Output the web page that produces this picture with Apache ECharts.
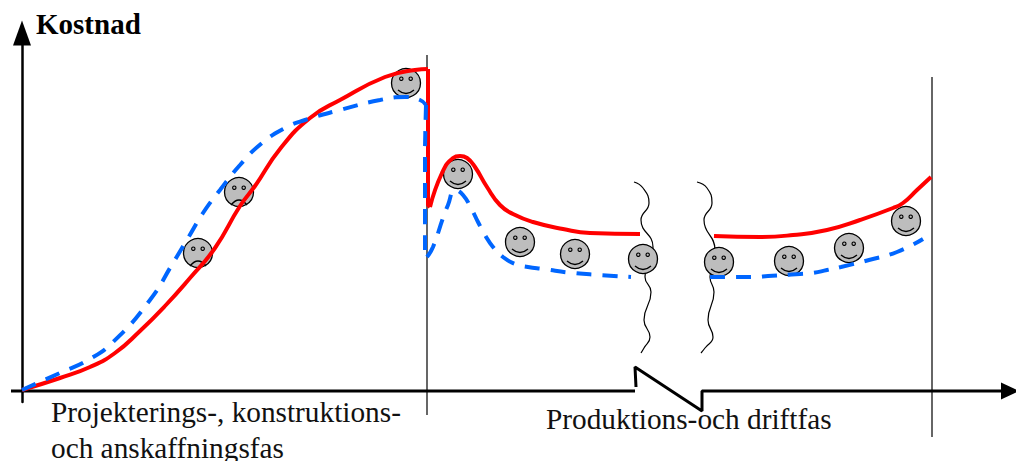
<!DOCTYPE html>
<html>
<head>
<meta charset="utf-8">
<title>Kostnad</title>
<style>
  html, body { margin: 0; padding: 0; background: #fff; }
  #chart { width: 1016px; height: 461px; }
</style>
<script src="https://cdn.jsdelivr.net/npm/echarts@6/dist/echarts.min.js"></script>
</head>
<body>
<div id="chart"></div>
<script>
// x = time along the life cycle, y = cost (arbitrary units)
var redRise = [[0,0],[38,12],[68,23],[93,37],[118,59],[143,84],[168,112],[193,142],[218,184],[233,204],[258,241],[288,272],[318,290],[363,313],[393,320],[406,321]];
var redDrop = [[406,321],[406,185],[408,183]];
var redHump = [[408,183],[420,217],[431,232],[438,234],[445,232],[453,223],[465,203],[478,185],[491,176],[511,168],[541,161],[568,157],[618,156]];
var redLate = [[692,154],[738,153],[771,155],[805,160],[838,170],[871,182],[881,187],[895,200],[909,213]];

var blueRise = [[0,0],[40,18],[66,30],[91,48],[128,90],[151,127],[166,152],[181,177],[198,200],[218,225],[240,247],[263,262],[283,270],[318,280],[358,290],[383,293],[398,290],[404,285]];
var blueDrop = [[404,285],[403,240],[403,140],[405,133]];
var blueHump = [[405,133],[411,143],[421,172],[426,185],[433,200],[441,195],[450,180],[456,168],[463,155],[471,143],[481,133],[493,126],[506,123],[521,121],[551,117],[578,115],[609,113]];
var blueLate = [[688,113],[705,113],[734,113],[746,114],[778,116],[791,117],[805,120],[819,123],[847,130],[875,138],[901,151]];

// faces: x, y, mood (1 happy, -1 sad)
var faces = [[176,137,-1],[217,198,-1],[384,307,1],[436,216,1],[498,148,1],[553,136,1],[621,131,1],[697,128,1],[767,129,1],[827,142,1],[884,169,1]];

var waveLeft = [[612,208],[621,202],[627,187],[619,170],[631,143],[623,113],[629,98],[622,70],[628,53],[622,42],[619,37]];
var waveRight = [[675,208],[685,202],[690,187],[682,170],[693,140],[688,113],[692,98],[686,70],[691,53],[683,42],[679,37]];

var dividerA = [[405,335],[405,-25]];
var dividerB = [[910,313],[910,-47]];
var baseline = [[-11,-1],[613,-1]];
var breakMark = [[614,3],[613,23],[680,-21],[680,-1],[980,-1]];
var xArrowTip = [[988,-1]];

var RED = '#ff0000', BLUE = '#0066ff', INK = '#000000';

function lineSeries(data, color, width, smooth, dashed, z) {
  return {
    type: 'line',
    data: data,
    clip: false,
    silent: true,
    symbol: 'none',
    smooth: smooth,
    z: z,
    lineStyle: { color: color, width: width, type: dashed ? [15, 11] : 'solid', cap: 'butt' }
  };
}

function drawFace(params, api) {
  var p = api.coord([api.value(0), api.value(1)]);
  var happy = api.value(2) > 0;
  var cx = p[0], cy = p[1];
  var line = { stroke: '#000', lineWidth: 1.3, fill: null };
  function eye(dx) {
    return { type: 'circle', shape: { cx: cx + dx, cy: cy - 4.3, r: 1.7 }, style: { fill: '#bdbdbd', stroke: '#000', lineWidth: 1.1 } };
  }
  return {
    type: 'group',
    children: [
      { type: 'circle', shape: { cx: cx, cy: cy, r: 14.5 }, style: { fill: '#bdbdbd', stroke: '#000', lineWidth: 1.3 } },
      eye(-4.7),
      eye(4.7),
      {
        type: 'bezierCurve',
        shape: happy
          ? { x1: cx - 8, y1: cy + 7, x2: cx + 8, y2: cy + 7, cpx1: cx, cpy1: cy + 14 }
          : { x1: cx - 8, y1: cy + 13, x2: cx + 8, y2: cy + 13, cpx1: cx, cpy1: cy + 3 },
        style: line
      }
    ]
  };
}

var chart = echarts.init(document.getElementById('chart'), null, { renderer: 'svg' });
chart.setOption({
  animation: false,
  backgroundColor: '#ffffff',
  grid: { left: 0, right: 0, top: 33, bottom: 59 },
  xAxis: {
    type: 'value',
    min: -22,
    max: 994,
    axisLine: { show: false },
    axisTick: { show: false },
    axisLabel: { show: false },
    splitLine: { show: false }
  },
  yAxis: {
    type: 'value',
    min: -12,
    max: 357,
    axisLine: {
      show: true,
      onZero: true,
      symbol: ['none', 'triangle'],
      symbolSize: [18, 25],
      lineStyle: { color: INK, width: 2.5 }
    },
    axisTick: { show: false },
    axisLabel: { show: false },
    splitLine: { show: false }
  },
  graphic: [
    { type: 'text', left: 36, top: 9, style: { text: 'Kostnad', font: 'bold 29px "Liberation Serif"', fill: INK } },
    { type: 'text', left: 51, top: 397, style: { text: 'Projekterings-, konstruktions-', font: '29.3px "Liberation Serif"', fill: '#111' } },
    { type: 'text', left: 51, top: 433, style: { text: 'och anskaffningsfas', font: '29.3px "Liberation Serif"', fill: '#111' } },
    { type: 'text', left: 546, top: 404, style: { text: 'Produktions-och driftfas', font: '29.3px "Liberation Serif"', fill: '#111' } }
  ],
  series: [
    lineSeries(dividerA, '#000', 1.2, false, false, 2),
    lineSeries(dividerB, '#333', 1.5, false, false, 2),
    lineSeries(baseline, INK, 3, false, false, 3),
    lineSeries(breakMark, INK, 3, false, false, 3),
    {
      type: 'scatter',
      data: xArrowTip,
      clip: false,
      silent: true,
      symbol: 'triangle',
      symbolSize: [17, 18],
      symbolRotate: -90,
      itemStyle: { color: INK, opacity: 1 },
      z: 3
    },
    lineSeries(waveLeft, '#000', 1.2, 0.5, false, 3),
    lineSeries(waveRight, '#000', 1.2, 0.5, false, 3),
    {
      type: 'custom',
      data: faces,
      encode: { x: 0, y: 1 },
      clip: false,
      silent: true,
      renderItem: drawFace,
      z: 4
    },
    lineSeries(redRise, RED, 4, 0.5, false, 5),
    lineSeries(redDrop, RED, 4, false, false, 5),
    lineSeries(redHump, RED, 4, 0.5, false, 5),
    lineSeries(redLate, RED, 4, 0.5, false, 5),
    lineSeries(blueRise, BLUE, 4, 0.5, true, 6),
    lineSeries(blueDrop, BLUE, 4, 0.2, true, 6),
    lineSeries(blueHump, BLUE, 4, 0.5, true, 6),
    lineSeries(blueLate, BLUE, 4, 0.5, true, 6)
  ]
});
window.addEventListener('resize', function() { chart.resize(); });
</script>
</body>
</html>
